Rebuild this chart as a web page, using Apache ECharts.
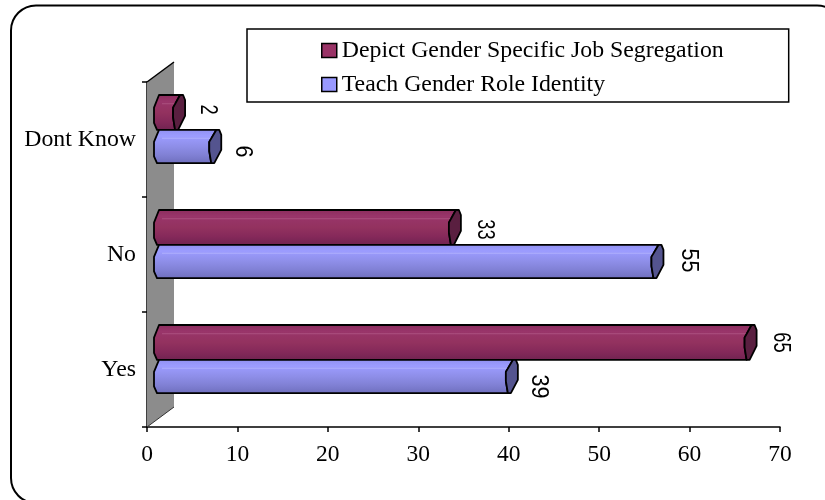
<!DOCTYPE html>
<html><head><meta charset="utf-8">
<style>html,body{margin:0;padding:0;background:#fff}#c{width:825px;height:500px}</style>
<script src="https://cdn.jsdelivr.net/npm/echarts@6/dist/echarts.min.js"></script>
</head><body><div id="c"></div>
<script>
const categories = ['Yes', 'No', 'Dont Know'];
const depictName = 'Depict Gender Specific Job Segregation';
const teachName = 'Teach Gender Role Identity';
const depictValues = [65.2, 32.5, 2];
const teachValues = [38.8, 54.9, 6];
const xTicks = [0, 70, 10];

const SERIF = '"Liberation Serif", serif';
const SANS = '"Liberation Sans", sans-serif';
const DEPTH_X = 20, START_X = 7, CAP = 12;

function grad(stops) {
  return new echarts.graphic.LinearGradient(0, 0, 0, 1, stops.map(s => ({offset: s[0], color: s[1]})));
}
const depictStyle = {
  topF: -0.387, botF: -0.083, cap: '#5a1f40', line: '#b9628f', scale: 0.76, dx: [24, 24, 23], dy: [0, 2, -3],
  fill: grad([[0, '#8a2c5c'], [0.2, '#99356a'], [0.5, '#93325f'], [0.75, '#85295a'], [1, '#6f2350']])
};
const teachStyle = {
  topF: -0.083, botF: 0.205, cap: '#54548f', line: '#bcbcff', scale: 0.9, dx: [21, 25, 21], dy: [10, -1, 5],
  fill: grad([[0, '#8f8ff0'], [0.2, '#9c9cff'], [0.5, '#8e8ee8'], [0.75, '#8080d4'], [1, '#6e6ebc']])
};

function barRenderer(st) {
  return function (params, api) {
    const i = api.value(1), v = api.value(0);
    const c = api.coord([0, i]), end = api.coord([v, i]);
    const band = api.size([0, 1])[1];
    const top = c[1] + band * st.topF, bot = c[1] + band * st.botF, h = bot - top;
    const l = c[0] + START_X, r = end[0] + DEPTH_X;
    const body = [[l + 5, top], [r - 5, top], [r - CAP, top + h * 0.36], [r - CAP, bot - h * 0.36],
      [r - 10, bot], [l + 3, bot], [l, bot - h * 0.2], [l, top + h * 0.36]];
    const cap = [[r - 5, top], [r - 2, top], [r, top + 5], [r, bot - h * 0.4], [r - 7, bot], [r - 10, bot],
      [r - CAP, bot - h * 0.36], [r - CAP, top + h * 0.36]];
    const stroke = {stroke: '#000', lineWidth: 1.8, lineJoin: 'round'};
    const children = [
      {type: 'polygon', shape: {points: body}, style: Object.assign({fill: st.fill}, stroke)},
      {type: 'line', shape: {x1: l + 8, y1: top + h * 0.25, x2: r - 9, y2: top + h * 0.25}, style: {stroke: st.line, lineWidth: 1, opacity: 0.6}},
      {type: 'polygon', shape: {points: cap}, style: Object.assign({fill: st.cap}, stroke)},
      {type: 'text', x: r + st.dx[i], y: (top + bot) / 2 + st.dy[i], rotation: -Math.PI / 2, scaleX: st.scale,
        style: {text: String(Math.round(v)), font: '24px ' + SANS, fill: '#000', align: 'center', verticalAlign: 'middle'}}
    ];
    return {type: 'group', children};
  };
}
function wallRenderer(params, api) {
  const band = api.size([0, 1])[1];
  const b0 = api.coord([0, 0]), t0 = api.coord([0, 2]);
  const b = [b0[0], b0[1] + band / 2], t = [t0[0], t0[1] - band / 2];
  const w = 27, rise = 20;
  const pts = [[b[0], b[1]], [b[0] + w, b[1] - rise], [t[0] + w, t[1] - rise], [t[0], t[1]]];
  return {type: 'group', children: [
    {type: 'polygon', shape: {points: pts}, style: {fill: '#8c8c8c'}},
    {type: 'line', shape: {x1: t[0], y1: t[1], x2: t[0] + w, y2: t[1] - rise}, style: {stroke: '#000', lineWidth: 1.5}},
    {type: 'line', shape: {x1: b[0], y1: b[1], x2: b[0] + w, y2: b[1] - rise}, style: {stroke: '#333', lineWidth: 1}}
  ]};
}
const chart = echarts.init(document.getElementById('c'), null, {renderer: 'canvas'});
chart.setOption({
  animation: false,
  backgroundColor: '#fff',
  graphic: [{type: 'rect', z: -10, shape: {x: 11, y: 5.5, width: 831, height: 497.5, r: 25},
    style: {fill: 'none', stroke: '#000', lineWidth: 2}}],
  grid: {left: 147, right: 45, top: 82, bottom: 73, containLabel: false},
  xAxis: {type: 'value', min: xTicks[0], max: xTicks[1], interval: xTicks[2],
    axisLine: {show: true, lineStyle: {color: '#000', width: 1.5}},
    axisTick: {show: true, length: 5, lineStyle: {color: '#000', width: 1.5}},
    splitLine: {show: false},
    axisLabel: {color: '#000', fontFamily: SERIF, fontSize: 23.5, margin: 16}},
  yAxis: {type: 'category', data: categories,
    axisLine: {show: true, lineStyle: {color: '#000', width: 1.5}},
    axisTick: {show: true, length: 5, alignWithLabel: false, lineStyle: {color: '#000', width: 1.5}},
    axisLabel: {color: '#000', fontFamily: SERIF, fontSize: 23.8, margin: 11, padding: [4, 0, 0, 0]}},
  legend: {data: [depictName, teachName], orient: 'vertical', left: 247, top: 29,
    padding: [9.5, 65, 5.5, 74], itemGap: 10, itemWidth: 15, itemHeight: 14, icon: 'rect',
    borderColor: '#000', borderWidth: 1.5, backgroundColor: '#fff', selectedMode: false,
    itemStyle: {borderColor: '#000', borderWidth: 1.5},
    textStyle: {color: '#000', fontFamily: SERIF, fontSize: 23.8}},
  series: [
    {type: 'custom', name: 'wall', renderItem: wallRenderer, data: [[0, 0]], silent: true, z: 1,
      encode: {x: 0, y: 1}, clip: false},
    {type: 'custom', name: depictName, renderItem: barRenderer(depictStyle), z: 2, itemStyle: {color: '#993366'},
      data: depictValues.map((v, i) => [v, i]), encode: {x: 0, y: 1}},
    {type: 'custom', name: teachName, renderItem: barRenderer(teachStyle), z: 3, itemStyle: {color: '#9999ff'},
      data: teachValues.map((v, i) => [v, i]), encode: {x: 0, y: 1}}
  ]
});
</script></body></html>
